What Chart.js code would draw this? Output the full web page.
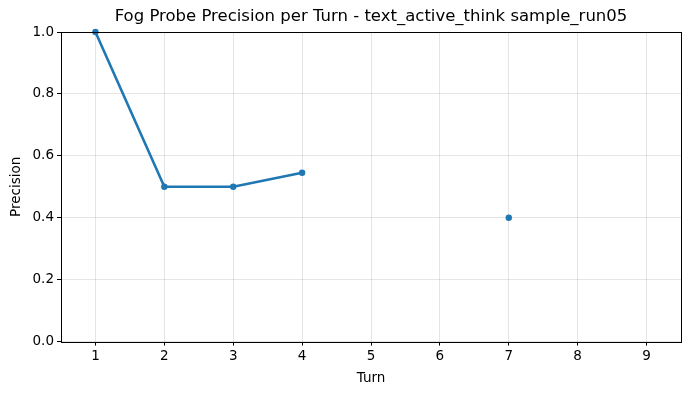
<!DOCTYPE html>
<html>
<head>
<meta charset="utf-8">
<script src="https://cdn.jsdelivr.net/npm/chart.js@4/dist/chart.umd.min.js"></script>
<style>
  html, body { margin: 0; padding: 0; background: #fff; }
  #wrap { width: 691px; height: 393px; }
</style>
</head>
<body>
<div id="wrap"><canvas id="c"></canvas></div>
<script>
// Fog probe precision per turn, one run. Gaps = turns with no probe.
const TURNS = [1, 2, 3, 4, 5, 6, 7, 8, 9];
const PRECISION = [1.0, 0.5, 0.5, 0.5455, null, null, 0.4, null, null];
const X_TICKS = [1, 2, 3, 4, 5, 6, 7, 8, 9];
const Y_TICKS = [0, 0.2, 0.4, 0.6, 0.8, 1.0];
const TITLE = 'Fog Probe Precision per Turn - text_active_think sample_run05';

const BLUE = '#1f77b4';
const FONT = "'DejaVu Sans', sans-serif";

// matplotlib-style box around the axes, title centred over the plot area
const frame = {
    id: 'frame',
    afterDraw(chart) {
        const { ctx, chartArea: a } = chart;
        ctx.save();
        ctx.strokeStyle = '#000';
        ctx.lineWidth = 1;
        const l = Math.round(a.left), t = Math.round(a.top);
        const r = Math.round(a.right), b = Math.round(a.bottom);
        ctx.strokeRect(l + 0.5, t + 0.5, r - l, b - t);
        ctx.fillStyle = '#000';
        ctx.font = `16.5px ${FONT}`;
        ctx.textAlign = 'center';
        ctx.textBaseline = 'middle';
        ctx.fillText(TITLE, (a.left + a.right) / 2, a.top - 15);
        ctx.restore();
    },
};

new Chart(document.getElementById('c'), {
    type: 'line',
    data: {
        datasets: [{
            label: 'precision',
            data: TURNS.map((t, i) => ({ x: t, y: PRECISION[i] })),
            borderColor: BLUE,
            backgroundColor: BLUE,
            borderWidth: 2.6,
            pointRadius: 3.2,
            pointHoverRadius: 3.2,
            pointBorderWidth: 0,
            spanGaps: false,
            tension: 0,
            clip: 4,
        }],
    },
    options: {
        responsive: true, maintainAspectRatio: false, animation: false,
        layout: { padding: { left: 0, right: 10, top: 32, bottom: 6 } },
        plugins: {
            legend: { display: false },
            tooltip: { enabled: false },
            title: { display: false },
        },
        scales: {
            x: {
                type: 'linear', min: 0.5, max: 9.5,
                afterBuildTicks: s => { s.ticks = X_TICKS.map(v => ({ value: v })); },
                grid: { color: 'rgba(0,0,0,0.1)', tickColor: '#000', tickLength: 4, drawOnChartArea: true },
                border: { display: false },
                ticks: { color: '#000', padding: 3, font: { family: FONT, size: 13.5 } },
                title: { display: true, text: 'Turn', color: '#000', font: { family: FONT, size: 13.5 }, padding: { top: 3, bottom: 0 } },
            },
            y: {
                min: 0, max: 1,
                afterBuildTicks: s => { s.ticks = Y_TICKS.map(v => ({ value: v })); },
                afterFit: s => { s.width = 61; },
                grid: { color: 'rgba(0,0,0,0.1)', tickColor: '#000', tickLength: 4 },
                border: { display: false },
                ticks: { color: '#000', padding: 3, font: { family: FONT, size: 13.5 }, callback: v => v.toFixed(1) },
                title: { display: true, text: 'Precision', color: '#000', font: { family: FONT, size: 13.5 }, padding: { top: 8, bottom: 0 } },
            },
        },
    },
    plugins: [frame],
});
</script>
</body>
</html>
